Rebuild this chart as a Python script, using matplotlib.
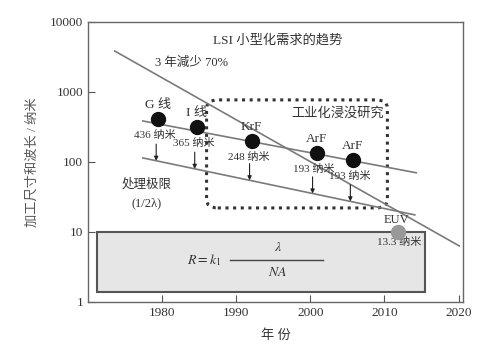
import numpy as np
import matplotlib
matplotlib.use("Agg")
import matplotlib.pyplot as plt
from matplotlib.patches import Rectangle, FancyBboxPatch

plt.rcParams['font.family'] = ['Liberation Serif', 'Noto Sans CJK SC']
plt.rcParams['mathtext.fontset'] = 'stix'

# light sources (year, wavelength in nm as drawn)
src_names = ['G 线', 'I 线', 'KrF', 'ArF', 'ArF']
src_years = [1979.4, 1984.7, 1992.1, 2000.9, 2005.7]
src_vals = [411, 316, 200, 134, 107]
wl_labels = ['436 纳米', '365 纳米', '248 纳米', '193 纳米', '193 纳米']
arrow_years = [1979.2, 1984.4, 1991.8, 2000.3, 2005.4]

euv_year = 2011.8
euv_val = 10

# trend lines (start / end)
trend_years = [1973.6, 2020.1]
trend_vals = [3850, 6.3]
src_line_years = [1977.4, 2014.3]
src_line_vals = [385, 70]
limit_years = [1977.4, 2014.1]
limit_vals = [114, 17.5]

# boxes
immersion_box = [1986.0, 2010.4, 22, 770]
formula_box = [1971.2, 2015.5, 1.4, 10]

txt = '#333333'
grey_line = '#7a7a7a'

fig = plt.figure(figsize=(5, 3.49), dpi=100)
ax = fig.add_axes([0.176, 0.135, 0.75, 0.802])
ax.set_yscale('log')
ax.set_xlim(1970, 2020.6)
ax.set_ylim(1, 10000)
ax.set_xticks([1980, 1990, 2000, 2010, 2020])
ax.set_yticks([1, 10, 100, 1000, 10000])
ax.set_yticklabels(['1', '10', '100', '1000', '10000'])
ax.minorticks_off()
ax.tick_params(direction='in', length=5, color='#555555', labelcolor=txt, labelsize=9.5)
for s in ax.spines.values():
    s.set_color('#666666')
    s.set_linewidth(1.0)

# lines
ax.plot(trend_years, trend_vals, color=grey_line, lw=1.2, zorder=3)
ax.plot(src_line_years, src_line_vals, color=grey_line, lw=1.2, zorder=3)
ax.plot(limit_years, limit_vals, color=grey_line, lw=1.2, zorder=3)

# points
ax.plot(src_years, src_vals, 'o', color='#111111', ms=10, zorder=5)
ax.plot([euv_year], [euv_val], 'o', color='#999999', ms=10, zorder=5)

# labels on points
for x, v, n in zip(src_years, src_vals, src_names):
    ax.annotate(n, (x, v), xytext=(0, 5.5), textcoords='offset points',
                ha='center', va='bottom', fontsize=9.5, color=txt)
for x, v, n in zip(src_years, src_vals, wl_labels):
    ax.annotate(n, (x, v), xytext=(-2, -8), textcoords='offset points',
                ha='center', va='top', fontsize=8, color=txt)

# arrows down to processing limit line
lim_log = np.log10(limit_vals)
for x in arrow_years:
    yend = 10 ** np.interp(x, limit_years, lim_log)
    ax.annotate('', xy=(x, yend), xytext=(0, 12), textcoords='offset points',
                arrowprops=dict(arrowstyle='-|>', color='#222222', lw=0.8,
                                mutation_scale=6, shrinkA=0, shrinkB=0))

ax.annotate('EUV', (euv_year, euv_val), xytext=(-1, 4.5), textcoords='offset points',
            ha='center', va='bottom', fontsize=9, color=txt)
ax.annotate('13.3 纳米', (euv_year, euv_val), xytext=(1, -4), textcoords='offset points',
            ha='center', va='top', fontsize=8, color=txt)

# boxes
x0, x1, y0, y1 = formula_box
ax.add_patch(Rectangle((x0, y0), x1 - x0, y1 - y0, facecolor='#e6e6e6',
                       edgecolor='#555555', lw=1.5, zorder=1))

fig.canvas.draw()
to_ax = ax.transData + ax.transAxes.inverted()
bx0, by0, bx1, by1 = immersion_box[0], immersion_box[2], immersion_box[1], immersion_box[3]
(ax0, ay0), (ax1, ay1) = to_ax.transform([(bx0, by0), (bx1, by1)])
ax.add_patch(FancyBboxPatch((ax0, ay0), ax1 - ax0, ay1 - ay0,
                            boxstyle='round,pad=0,rounding_size=0.03',
                            transform=ax.transAxes, facecolor='none',
                            edgecolor='#333333', lw=2.2, linestyle=(0, (1, 1.5)),
                            zorder=2))

# free text
ax.text(0.505, 0.933, 'LSI 小型化需求的趋势', transform=ax.transAxes,
        ha='center', va='center', fontsize=9.5, color=txt)
ax.text(0.277, 0.855, '3 年減少 70%', transform=ax.transAxes,
        ha='center', va='center', fontsize=9, color=txt)
ax.text(0.665, 0.672, '工业化浸没研究', transform=ax.transAxes,
        ha='center', va='center', fontsize=9.5, color=txt)
ax.text(0.157, 0.418, '处理极限', transform=ax.transAxes,
        ha='center', va='center', fontsize=9, color=txt)
ax.text(0.157, 0.353, '(1/2λ)', transform=ax.transAxes,
        ha='center', va='center', fontsize=9, color=txt)

# formula
ax.text(0.31, 0.15, r'$R = k_1$', transform=ax.transAxes,
        ha='center', va='center', fontsize=10, color=txt)
ax.plot([0.379, 0.627], [0.15, 0.15], transform=ax.transAxes,
        color='#444444', lw=1.0)
ax.text(0.507, 0.195, r'$\lambda$', transform=ax.transAxes,
        ha='center', va='center', fontsize=10, color=txt)
ax.text(0.505, 0.105, r'$NA$', transform=ax.transAxes,
        ha='center', va='center', fontsize=10, color=txt)

ax.set_xlabel('年 份', fontsize=9.5, color=txt, labelpad=8)
ax.set_ylabel('加工尺寸和波长 / 纳米', fontsize=9.5, color='#555555', labelpad=8)

fig.savefig('out.png', dpi=100, facecolor='white')
